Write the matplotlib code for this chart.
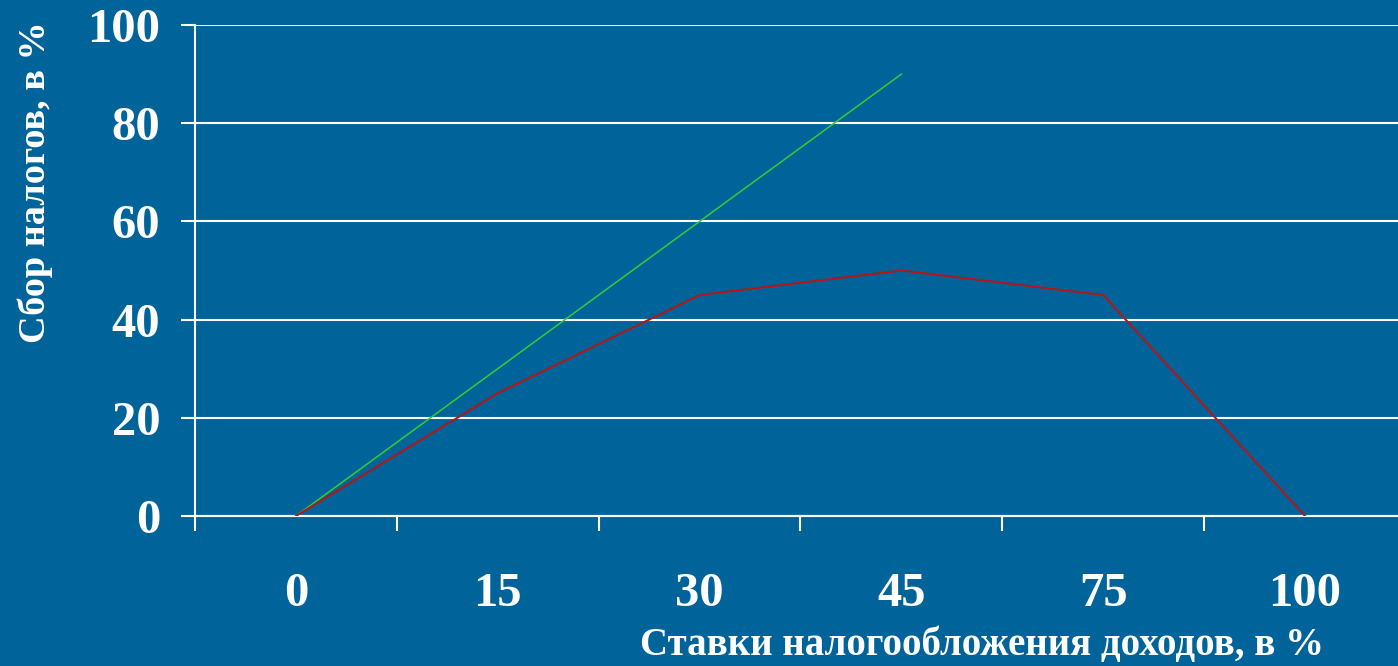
import matplotlib
matplotlib.use("Agg")
import matplotlib.pyplot as plt
import numpy as np

categories = ["0", "15", "30", "45", "75", "100"]
revenue = [0, 25, 45, 50, 45, 0]
linear = [0, 30, 60, 90]
y_ticks = [0, 20, 40, 60, 80, 100]

BG = "#00649A"
plt.rcParams['font.family'] = ['Liberation Serif', 'DejaVu Serif']

fig = plt.figure(figsize=(13.98, 6.66), dpi=100, facecolor=BG)
ax = fig.add_axes([195/1398, 1-516/666, 1211/1398, 491/666], facecolor=BG)

x = np.arange(len(categories))
ax.plot(x[:len(linear)], linear, color="#33CC33", lw=1.1, zorder=3)
ax.plot(x, revenue, color="#B01818", lw=1.5, zorder=4)

ax.set_xlim(-0.5, len(categories) - 0.5)
ax.set_ylim(0, 100)

ax.set_yticks(y_ticks)
ax.set_yticklabels([str(v) for v in y_ticks])
ax.grid(axis="y", color="white", lw=1.5)
ax.tick_params(axis="y", length=10, width=1.5, color="white", pad=15,
               labelsize=35, labelcolor="white")
for lab in ax.get_yticklabels():
    lab.set_fontweight("bold")

ax.set_xticks(np.arange(len(categories) + 1) - 0.5)
ax.set_xticklabels([])
ax.tick_params(axis="x", which="major", length=11, width=1.5, color="white")
ax.set_xticks(x, minor=True)
ax.set_xticklabels(categories, minor=True)
ax.tick_params(axis="x", which="minor", length=0, pad=40, labelsize=35,
               labelcolor="white")
for lab in ax.get_xticklabels(minor=True):
    lab.set_fontweight("bold")

for s in ["top", "right"]:
    ax.spines[s].set_visible(False)
ax.spines["left"].set_color("white")
ax.spines["left"].set_linewidth(1.5)
ax.spines["bottom"].set_color("white")
ax.spines["bottom"].set_linewidth(1.5)

fig.text(982/1398, 1-645/666, "Ставки налогообложения доходов, в %",
         color="white", fontsize=28, fontweight="bold", ha="center", va="center")
fig.text(35/1398, 1-182/666, "Сбор налогов, в %", color="white",
         fontsize=27.5, fontweight="bold", ha="center", va="center", rotation=90)

fig.savefig("out.png", dpi=100, facecolor=BG)
